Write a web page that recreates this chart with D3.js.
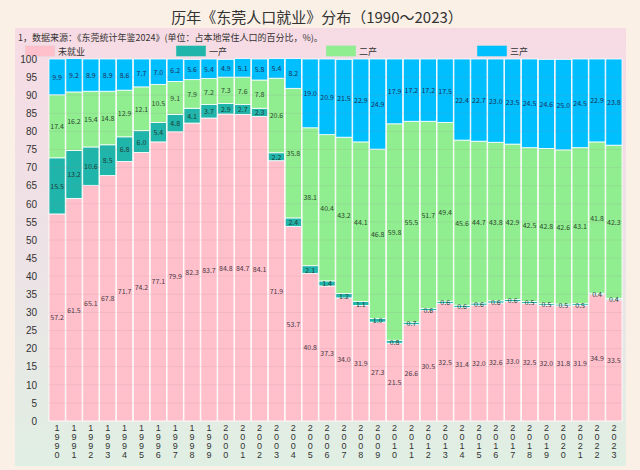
<!DOCTYPE html>
<html><head><meta charset="utf-8">
<script src="https://cdn.jsdelivr.net/npm/d3@7"></script>
<style>
html,body{margin:0;padding:0;background:#faf0e6;}
svg{display:block;font-family:"Noto Sans CJK SC","Noto Sans",sans-serif;}
</style></head>
<body>
<svg id="chart" width="640" height="470"></svg>
<script>
const years = d3.range(1990, 2024).map(String);
const seriesNames = ["未就业", "一产", "二产", "三产"];
const unemployed = [57.2,61.5,65.1,67.8,71.7,74.2,77.1,79.9,82.3,83.7,84.8,84.7,84.1,71.9,53.7,40.8,37.3,34.0,31.9,27.3,21.5,26.6,30.5,32.5,31.4,32.0,32.6,33.0,32.5,32.0,31.8,31.9,34.9,33.5];
const primary = [15.5,13.2,10.6,8.5,6.8,6.0,5.4,4.8,4.1,3.7,2.9,2.7,2.3,2.2,2.4,2.1,1.4,1.2,1.1,1.0,0.8,0.7,0.6,0.6,0.6,0.6,0.6,0.6,0.5,0.5,0.5,0.5,0.4,0.4];
const secondary = [17.4,16.2,15.4,14.8,12.9,12.1,10.5,9.1,7.9,7.2,7.3,7.6,7.8,20.6,35.8,38.1,40.4,43.2,44.1,46.8,59.8,55.5,51.7,49.4,45.6,44.7,43.8,42.9,42.5,42.8,42.6,43.1,41.8,42.3];
const tertiary = [9.9,9.2,8.9,8.9,8.6,7.7,7.0,6.2,5.6,5.4,4.9,5.1,5.8,5.4,8.2,19.0,20.9,21.5,22.9,24.9,17.9,17.2,17.2,17.5,22.4,22.7,23.0,23.5,24.5,24.6,25.0,24.5,22.9,23.8];
const yTicks = d3.range(0, 101, 5);
const titleText = "历年《东莞人口就业》分布（1990～2023）";
const noteText = "1，数据来源：《东莞统计年鉴2024》(单位：占本地常住人口的百分比，%)。";

const colors = ["#ffc0cb", "#1fb5aa", "#90ee90", "#00bfff"];
const labelColors = ["#4a3a45", "#1d3d3a", "#2e4a2e", "#1c3158"];

const table = years.map((y, i) => ({year: y, "未就业": unemployed[i], "一产": primary[i], "二产": secondary[i], "三产": tertiary[i]}));
const stacked = d3.stack().keys(seriesNames)(table);

const svg = d3.select("#chart");
const defs = svg.append("defs");
const grad = defs.append("linearGradient").attr("id", "bg").attr("x1", 0).attr("y1", 0).attr("x2", 0).attr("y2", 1);
grad.append("stop").attr("offset", "0%").attr("stop-color", "#f7dbe4");
grad.append("stop").attr("offset", "55%").attr("stop-color", "#ece3e6");
grad.append("stop").attr("offset", "100%").attr("stop-color", "#e0efe3");

svg.append("rect").attr("x", 15).attr("y", 28).attr("width", 611).attr("height", 438).attr("fill", "url(#bg)");

svg.append("text").attr("x", 317).attr("y", 16).attr("text-anchor", "middle").attr("dominant-baseline", "central")
  .attr("font-size", 15).attr("fill", "#333").text(titleText);
svg.append("text").attr("x", 18).attr("y", 37.5).attr("dominant-baseline", "central")
  .attr("font-size", 9).attr("fill", "#333").text(noteText);

const legendX = [25, 176, 326, 477];
seriesNames.forEach((s, i) => {
  svg.append("rect").attr("x", legendX[i]).attr("y", 45.5).attr("width", 30).attr("height", 11)
    .attr("fill", colors[i]).attr("stroke", "#ddd").attr("stroke-width", 0.5);
  svg.append("text").attr("x", legendX[i] + 33).attr("y", 51).attr("dominant-baseline", "central")
    .attr("font-size", 9).attr("fill", "#333").text(s);
});

const x = d3.scaleBand().domain(years).range([49, 622]).paddingInner(0.04);
const y = d3.scaleLinear().domain([0, 100]).range([421, 59]);

const g = svg.append("g");
stacked.forEach((layer, li) => {
  g.selectAll(null).data(layer).enter().append("rect")
    .attr("x", d => x(d.data.year))
    .attr("width", x.bandwidth())
    .attr("y", d => y(d[1]))
    .attr("height", d => y(d[0]) - y(d[1]))
    .attr("fill", colors[li])
    .attr("stroke", "#ffffff").attr("stroke-width", 0.8);
});

// faint gridlines over bars
svg.append("g").selectAll("line").data(yTicks.filter(t => t > 0 && t < 100)).enter().append("line")
  .attr("x1", 49).attr("x2", 622).attr("y1", d => y(d)).attr("y2", d => y(d))
  .attr("stroke", "#9a8a90").attr("stroke-opacity", 0.18).attr("stroke-width", 0.8);

// value labels
stacked.forEach((layer, li) => {
  svg.append("g").selectAll("text").data(layer).enter().append("text")
    .attr("x", d => x(d.data.year) + x.bandwidth() / 2)
    .attr("y", d => (y(d[0]) + y(d[1])) / 2)
    .attr("text-anchor", "middle").attr("dominant-baseline", "central")
    .attr("font-size", 7).attr("fill", labelColors[li])
    .text(d => d.data[layer.key].toFixed(1));
});

// y axis
const yAxis = d3.axisLeft(y).tickValues(yTicks).tickSize(0).tickPadding(0);
const ya = svg.append("g").attr("transform", "translate(37,0)").call(yAxis);
ya.select(".domain").remove();
ya.selectAll("text").attr("font-size", 10).attr("fill", "#333").attr("font-family", "'Liberation Sans',sans-serif");

// x axis with vertical digits
const xAxis = d3.axisBottom(x).tickSize(0).tickFormat("");
const xa = svg.append("g").attr("transform", "translate(0,421)").call(xAxis);
xa.select(".domain").remove();
xa.selectAll(".tick").each(function(d) {
  const t = d3.select(this).append("text").attr("fill", "#333").attr("font-size", 9)
    .attr("font-family", "'Liberation Sans',sans-serif").attr("text-anchor", "middle");
  d.split("").forEach((ch, k) => {
    t.append("tspan").attr("x", 0).attr("y", 10 + k * 9).text(ch);
  });
});
</script>
</body></html>
